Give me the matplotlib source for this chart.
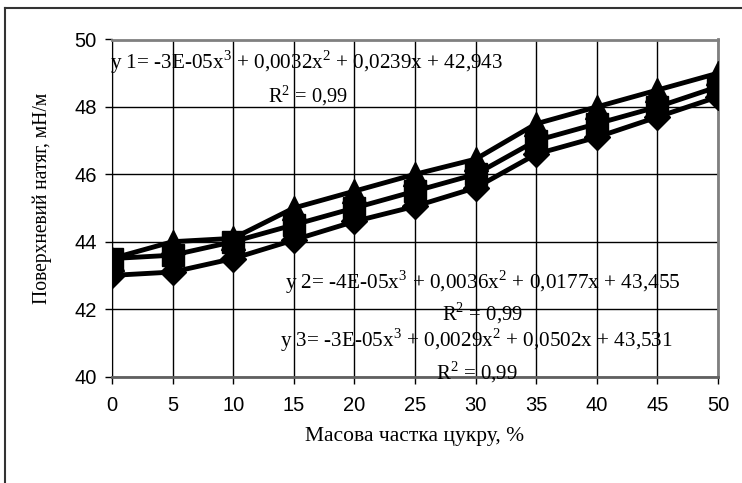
import matplotlib
matplotlib.use('Agg')
import matplotlib.pyplot as plt
from matplotlib.lines import Line2D

# sugar mass fraction, %
x = [0, 5, 10, 15, 20, 25, 30, 35, 40, 45, 50]

# surface tension, mN/m
s_tri = [43.5, 44.0, 44.1, 45.0, 45.5, 46.0, 46.45, 47.5, 48.0, 48.5, 49.0]
s_sq = [43.5, 43.6, 44.0, 44.5, 45.0, 45.5, 46.0, 47.0, 47.5, 48.0, 48.6]
s_dia = [43.0, 43.1, 43.5, 44.05, 44.6, 45.05, 45.6, 46.6, 47.1, 47.7, 48.3]

eq1 = 'y 1= -3E-05x$^3$ + 0,0032x$^2$ + 0,0239x + 42,943'
eq2 = 'y 2= -4E-05x$^3$ + 0,0036x$^2$ + 0,0177x + 43,455'
eq3 = 'y 3= -3E-05x$^3$ + 0,0029x$^2$ + 0,0502x + 43,531'
r2 = 'R$^2$ = 0,99'

plt.rcParams['mathtext.fontset'] = 'custom'
plt.rcParams['mathtext.rm'] = 'Liberation Serif'

fig = plt.figure(figsize=(7.42, 4.83), dpi=100)
ax = fig.add_axes([112/742, 1 - 376.5/483, 606/742, 337/483])

# outer frame (only left and top are in the crop)
fig.add_artist(Line2D([5/742, 5/742], [0, 1 - 8/483], color='#333333', lw=1.5, transform=fig.transFigure))
fig.add_artist(Line2D([5/742, 1], [1 - 8/483, 1 - 8/483], color='#333333', lw=1.5, transform=fig.transFigure))

ax.plot(x, s_dia, color='black', lw=3.5, marker='D', ms=13, zorder=3)
ax.plot(x, s_sq, color='black', lw=3.5, marker='s', ms=16, zorder=4)
ax.plot(x, s_tri, color='black', lw=3.5, marker='^', ms=17, zorder=5)

ax.set_xlim(0, 50)
ax.set_ylim(40, 50)
ax.set_xticks(range(0, 51, 5))
ax.set_yticks(range(40, 51, 2))
ax.grid(True, color='black', lw=1)
ax.set_axisbelow(True)
for side in ['top', 'right']:
    ax.spines[side].set_color('#808080')
    ax.spines[side].set_linewidth(2)
ax.spines['left'].set_color('black')
ax.spines['bottom'].set_color('#606060')
ax.spines['bottom'].set_linewidth(2)
ax.tick_params(direction='out', length=5, width=1, labelsize=14.5, pad=6)
ax.tick_params(axis='x', pad=9)
for lab in ax.get_xticklabels() + ax.get_yticklabels():
    lab.set_family('Liberation Sans')

serif = 'Liberation Serif'
texts = []
texts.append((ax.text(-0.17, 49.34, eq1, family=serif, fontsize=15, va='center', ha='left', zorder=6), 395))
texts.append((ax.text(16.2, 48.35, r2, family=serif, fontsize=15, va='center', ha='center', zorder=6), 80))
texts.append((ax.text(14.27, 42.8, eq2, family=serif, fontsize=15, va='center', ha='left', zorder=6), 396))
texts.append((ax.text(30.6, 41.88, r2, family=serif, fontsize=15, va='center', ha='center', zorder=6), 81))
texts.append((ax.text(13.86, 41.08, eq3, family=serif, fontsize=15, va='center', ha='left', zorder=6), 394))
texts.append((ax.text(30.1, 40.14, r2, family=serif, fontsize=15, va='center', ha='center', zorder=6), 82))

xl = ax.set_xlabel('Масова частка цукру, %', family=serif, fontsize=15)
yl = ax.set_ylabel('Поверхневий натяг, мН/м', family=serif, fontsize=15)
ax.xaxis.set_label_coords(0.5, -(436 - 376.5) / 337)
ax.yaxis.set_label_coords((42 - 112) / 606, (376.5 - 198) / 337)
xl.set_va('center')
yl.set_va('center')
texts.append((xl, 220))
texts.append((yl, 213))

# scale text sizes to the widths measured on the reference
fig.canvas.draw()
r = fig.canvas.get_renderer()
for t, px in texts:
    bb = t.get_window_extent(r)
    w = max(bb.width, bb.height) if t is yl else bb.width
    t.set_fontsize(t.get_fontsize() * px / w)

fig.savefig('out.png', dpi=100)
